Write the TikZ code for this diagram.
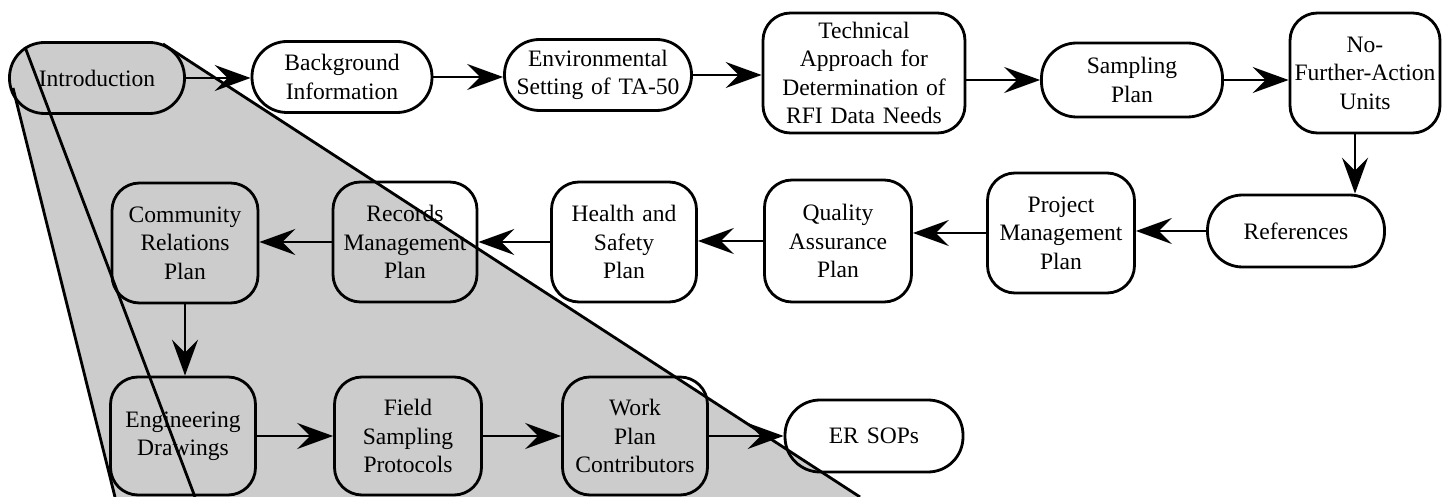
\documentclass[tikz,border=0pt]{standalone}
\usepackage{fontspec}
\setmainfont{Liberation Serif}
\usepackage{tikz}
\usetikzlibrary{arrows.meta}

\tikzset{
    box/.style={draw, line width=1.6pt, align=center, inner xsep=0pt, inner ysep=0pt,
        font=\fontsize{13.4}{16.2}\selectfont},
    pill/.style={box, rounded corners=0.7cm, minimum height=1.42cm},
    block/.style={box, rounded corners=0.55cm, minimum height=2.4cm, text width=2.92cm},
    flow/.style={-{Stealth[length=0.72cm, width=0.52cm, inset=0.26cm]}, line width=1.6pt},
    funnel/.style={line width=1.6pt},
}
\colorlet{stipple}{gray!40}

\begin{document}
\begin{tikzpicture}

        \useasboundingbox (0,0) rectangle (28.86,-9.94);

        \coordinate (P1) at (0.26,-1.76);
        \coordinate (P2) at (0.90,-0.86);
        \coordinate (P3) at (3.26,-0.88);
        \coordinate (P4) at (17.2,-9.94);
        \coordinate (P5) at (2.30,-9.94);
        \coordinate (Q1) at (0.50,-0.94);
        \coordinate (Q2) at (3.90,-9.94);

        % sombreado
        \fill[stipple] (P1) -- (P2) -- (P3) -- (P4) -- (P5) -- cycle;

        % linha de cima
        \node[pill, text width=3.5cm, fill=stipple] (intro) at (1.94,-1.56) {Introduction};
        \node[pill, text width=3.6cm] (backinfo) at (6.84,-1.54) {Background\\Information};
        \node[pill, text width=3.74cm] (envset) at (11.96,-1.50) {Environmental\\Setting of TA-50};
        \node[block, text width=4.04cm] (techapp) at (17.28,-1.46) {Technical\\Approach for\\Determination of\\RFI Data Needs};
        \node[pill, text width=3.62cm, minimum height=1.48cm] (sampling) at (22.64,-1.60) {Sampling\\Plan};
        \node[block, text width=3.0cm] (nfa) at (27.30,-1.46) {No-\\Further-Action\\Units};

        % linha do meio
        \node[pill, text width=3.54cm, minimum height=1.44cm] (refs) at (25.92,-4.62) {References};
        \node[block, text width=2.94cm] (projmgmt) at (21.22,-4.66) {Project\\Management\\Plan};
        \node[block, text width=2.94cm, minimum height=2.44cm] (qa) at (16.76,-4.82) {Quality\\Assurance\\Plan};
        \node[block, text width=2.9cm] (health) at (12.48,-4.84) {Health and\\Safety\\Plan};
        \node[block, text width=2.88cm] (records) at (8.10,-4.84) {Records\\Management\\Plan};
        \node[block] (community) at (3.70,-4.86) {Community\\Relations\\Plan};

        % linha de baixo
        \node[block, text width=2.9cm, minimum height=2.36cm] (engdraw) at (3.66,-8.72) {Engineering\\Drawings};
        \node[block, text width=2.94cm, minimum height=2.36cm] (fieldsamp) at (8.16,-8.72) {Field\\Sampling\\Protocols};
        \node[block, text width=2.9cm, minimum height=2.36cm] (workplan) at (12.70,-8.72) {Work\\Plan\\Contributors};
        \node[pill, text width=3.56cm, minimum height=1.44cm] (ersops) at (17.48,-8.72) {ER SOPs};

        % bordas do funil
        \draw[funnel] (P1) -- (P5);
        \draw[funnel] (Q1) -- (Q2);
        \draw[funnel] (P3) -- (P4);

        % setas
        \draw[flow] (intro.east) -- (intro.east -| backinfo.west);
        \draw[flow] (backinfo.east) -- (backinfo.east -| envset.west);
        \draw[flow] (envset.east) -- (envset.east -| techapp.west);
        \draw[flow] (techapp.east |- sampling.west) -- (sampling.west);
        \draw[flow] (sampling.east) -- (sampling.east -| nfa.west);
        \draw[flow] ([xshift=-0.2cm]nfa.south) -- ([xshift=-0.2cm]nfa.south |- refs.north);
        \draw[flow] (refs.west) -- (refs.west -| projmgmt.east);
        \draw[flow] (projmgmt.west) -- (projmgmt.west -| qa.east);
        \draw[flow] (qa.west) -- (qa.west -| health.east);
        \draw[flow] (health.west) -- (health.west -| records.east);
        \draw[flow] (records.west) -- (records.west -| community.east);
        \draw[flow] (community.south) -- (community.south |- engdraw.north);
        \draw[flow] (engdraw.east) -- (engdraw.east -| fieldsamp.west);
        \draw[flow] (fieldsamp.east) -- (fieldsamp.east -| workplan.west);
        \draw[flow] (workplan.east) -- (workplan.east -| ersops.west);
    \end{tikzpicture}
\end{document}
